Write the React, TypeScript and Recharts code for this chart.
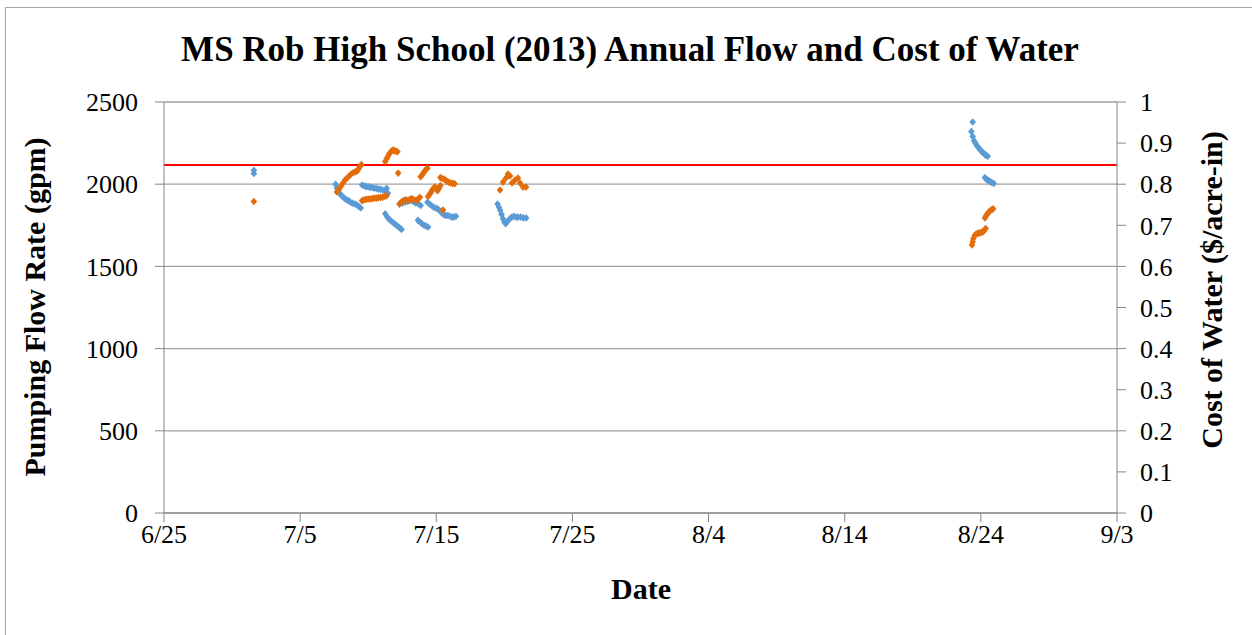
import { ScatterChart, Scatter, XAxis, YAxis, CartesianGrid, ReferenceLine } from 'recharts';

// days counted from 6/25/2013
const xTicks = [0, 10, 20, 30, 40, 50, 60, 70];
const xTickLabels = ['6/25', '7/5', '7/15', '7/25', '8/4', '8/14', '8/24', '9/3'];
const flowTicks = [0, 500, 1000, 1500, 2000, 2500];
const costTicks = [0, 0.1, 0.2, 0.3, 0.4, 0.5, 0.6, 0.7, 0.8, 0.9, 1];

const flowDays = [
  6.6, 6.6,
  12.6, 12.7, 12.8, 12.9, 13.0, 13.1, 13.25, 13.4, 13.55, 13.7, 13.85, 14.0, 14.15, 14.3, 14.45,
  14.55, 14.7, 14.85, 15.0, 15.15, 15.3, 15.45, 15.6, 15.75, 15.9, 16.05, 16.2, 16.35, 16.45,
  16.25, 16.4, 16.55, 16.7, 16.85, 17.0, 17.15, 17.3, 17.45,
  17.3, 17.5, 17.7, 17.9, 18.1, 18.3, 18.5, 18.7, 18.85,
  18.65, 18.8, 18.95, 19.1, 19.25, 19.4,
  19.35, 19.5, 19.65, 19.8, 19.95, 20.1, 20.25, 20.4, 20.55, 20.7, 20.85, 21.0, 21.15, 21.3, 21.45,
  24.5, 24.6, 24.7, 24.8, 24.9, 25.0, 25.1, 25.25, 25.4, 25.55, 25.7, 25.85, 26.0, 26.2, 26.4, 26.6,
  59.4, 59.3, 59.4, 59.5, 59.6, 59.7, 59.8, 59.9, 60.0, 60.1, 60.2, 60.3, 60.4, 60.5,
  60.3, 60.4, 60.5, 60.6, 60.7, 60.8, 60.95,
];
const flowValues = [
  2085, 2065,
  2000, 1975, 1955, 1945, 1935, 1925, 1915, 1905, 1900, 1890, 1885, 1880, 1875, 1865, 1855,
  1995, 1990, 1985, 1985, 1980, 1980, 1975, 1975, 1970, 1970, 1965, 1960, 1975, 1945,
  1820, 1800, 1785, 1775, 1765, 1755, 1745, 1735, 1725,
  1880, 1885, 1890, 1895, 1900, 1895, 1885, 1880, 1870,
  1780, 1770, 1760, 1750, 1745, 1740,
  1890, 1880, 1870, 1860, 1855, 1850, 1840, 1825, 1815, 1810, 1810, 1805, 1800, 1800, 1805,
  1880, 1860, 1840, 1815, 1790, 1770, 1760, 1775, 1790, 1800, 1805, 1800, 1800, 1800, 1795, 1795,
  2378, 2320, 2290, 2265, 2250, 2235, 2225, 2215, 2205, 2195, 2190, 2180, 2175, 2170,
  2040, 2030, 2025, 2020, 2015, 2010, 2005,
];

const costDays = [
  6.6,
  12.7, 12.85, 13.0, 13.15, 13.3, 13.45, 13.6, 13.75, 13.9, 14.05, 14.2, 14.3, 14.4, 14.5,
  14.55, 14.7, 14.85, 15.0, 15.15, 15.3, 15.45, 15.6, 15.75, 15.9, 16.05, 16.2, 16.35,
  16.25, 16.35, 16.45, 16.55, 16.65, 16.75, 16.85, 16.95, 17.05, 17.15,
  17.2,
  17.3, 17.45, 17.6, 17.75, 17.9, 18.05, 18.2, 18.35, 18.5, 18.65, 18.8,
  18.85, 18.95, 19.05, 19.15, 19.25, 19.35,
  19.4, 19.5, 19.6, 19.7, 19.8, 19.9, 20.0, 20.1, 20.2, 20.3,
  20.3, 20.45, 20.6, 20.75, 20.9, 21.05, 21.2, 21.35,
  20.5,
  24.68, 24.9, 25.12, 25.27, 25.42, 25.56, 25.78, 26.0, 26.15, 26.37, 26.59,
  59.35, 59.4, 59.45, 59.55, 59.65, 59.75, 59.85, 59.95, 60.05, 60.15, 60.25, 60.35,
  60.3, 60.4, 60.5, 60.6, 60.7, 60.8, 60.9,
];
const costValues = [
  0.758,
  0.781, 0.788, 0.795, 0.803, 0.81, 0.815, 0.82, 0.825, 0.828, 0.83, 0.832, 0.838, 0.843, 0.848,
  0.76, 0.762, 0.763, 0.764, 0.764, 0.765, 0.766, 0.766, 0.767, 0.768, 0.768, 0.77, 0.772,
  0.855, 0.862, 0.868, 0.874, 0.878, 0.882, 0.883, 0.881, 0.88, 0.879,
  0.827,
  0.752, 0.757, 0.76, 0.762, 0.76, 0.763, 0.765, 0.762, 0.76, 0.764, 0.768,
  0.818, 0.822, 0.827, 0.832, 0.836, 0.839,
  0.77, 0.775, 0.78, 0.786, 0.79, 0.793, 0.787, 0.784, 0.79, 0.797,
  0.816, 0.814, 0.812, 0.808, 0.805, 0.803, 0.802, 0.801,
  0.737,
  0.786, 0.805, 0.815, 0.825, 0.82, 0.803, 0.81, 0.815, 0.803, 0.793, 0.793,
  0.652, 0.66, 0.668, 0.675, 0.679, 0.68, 0.681, 0.682, 0.683, 0.684, 0.688, 0.692,
  0.718, 0.724, 0.729, 0.733, 0.736, 0.738, 0.74,
];

const costLimit = 0.847;

const flowData = flowDays.map((d, i) => ({ day: d, flow: flowValues[i] }));
const costData = costDays.map((d, i) => ({ day: d, cost: costValues[i] }));

const serif = 'Liberation Serif, Times New Roman, serif';
const axisGray = '#868686';
const tickStyle = { fill: '#000', fontSize: 26, fontFamily: serif };

const Diamond = (color: string) => (props: any) => {
  const { cx, cy } = props;
  if (cx == null || cy == null) return null;
  return (
    <polygon
      points={`${cx},${cy - 3.8} ${cx + 3.3},${cy} ${cx},${cy + 3.8} ${cx - 3.3},${cy}`}
      fill={color}
    />
  );
};

const axisTitle = {
  position: 'absolute' as const,
  whiteSpace: 'nowrap' as const,
  fontSize: 30,
  fontWeight: 'bold' as const,
  lineHeight: '34px',
};

export default function App() {
  return (
    <div
      style={{
        position: 'fixed',
        left: 0,
        top: 0,
        width: 1252,
        height: 635,
        overflow: 'hidden',
        background: '#fff',
        fontFamily: serif,
      }}
    >
      <div
        style={{
          position: 'absolute',
          left: 5,
          top: 7,
          width: 1300,
          height: 700,
          border: '1px solid #a6a6a6',
        }}
      />
      <div style={{ position: 'absolute', left: 0, top: 0 }}>
        <ScatterChart width={1252} height={635} margin={{ top: 102, right: 75, bottom: 92, left: 104 }}>
          <CartesianGrid yAxisId="left" vertical={false} stroke="#a0a0a0" strokeWidth={1.3} />
          <XAxis
            type="number"
            dataKey="day"
            domain={[0, 70]}
            ticks={xTicks}
            tickFormatter={(v: number) => xTickLabels[xTicks.indexOf(v)]}
            height={30}
            tick={tickStyle}
            tickSize={9}
            tickMargin={3}
            stroke={axisGray}
            interval={0}
          />
          <YAxis
            yAxisId="left"
            type="number"
            domain={[0, 2500]}
            ticks={flowTicks}
            width={60}
            tick={tickStyle}
            tickSize={9}
            tickMargin={17}
            stroke={axisGray}
            interval={0}
          />
          <YAxis
            yAxisId="right"
            orientation="right"
            type="number"
            domain={[0, 1]}
            ticks={costTicks}
            width={60}
            tick={tickStyle}
            tickSize={9}
            tickMargin={14}
            stroke={axisGray}
            interval={0}
          />
          <ReferenceLine yAxisId="right" y={costLimit} stroke="#ff0000" strokeWidth={2} />
          <Scatter
            yAxisId="left"
            data={flowData}
            dataKey="flow"
            shape={Diamond('#5b9bd5')}
            isAnimationActive={false}
          />
          <Scatter
            yAxisId="right"
            data={costData}
            dataKey="cost"
            shape={Diamond('#e36c0a')}
            isAnimationActive={false}
          />
        </ScatterChart>
      </div>
      <div
        style={{
          position: 'absolute',
          left: 630,
          top: 50,
          transform: 'translate(-50%, -50%)',
          whiteSpace: 'nowrap',
          fontSize: 35,
          fontWeight: 'bold',
          lineHeight: '40px',
        }}
      >
        MS Rob High School (2013) Annual Flow and Cost of Water
      </div>
      <div style={{ ...axisTitle, left: 35, top: 307, transform: 'translate(-50%, -50%) rotate(-90deg)' }}>
        Pumping Flow Rate (gpm)
      </div>
      <div style={{ ...axisTitle, left: 1212, top: 290, transform: 'translate(-50%, -50%) rotate(-90deg)' }}>
        Cost of Water ($/acre-in)
      </div>
      <div style={{ ...axisTitle, left: 641, top: 589, transform: 'translate(-50%, -50%)' }}>
        Date
      </div>
    </div>
  );
}
